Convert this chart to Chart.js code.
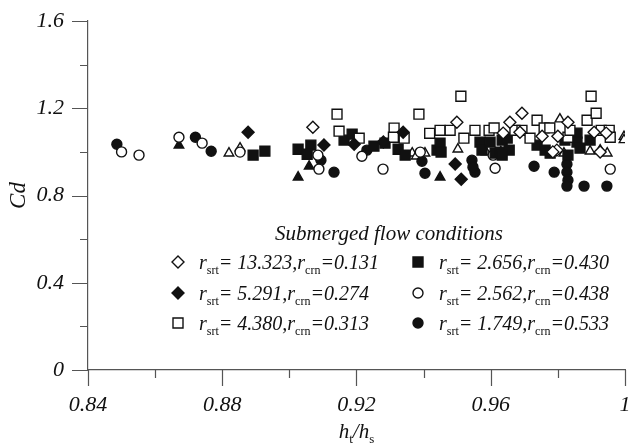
<!DOCTYPE html>
<html>
<head>
<meta charset="utf-8">
<script src="https://cdn.jsdelivr.net/npm/chart.js@4.4.0/dist/chart.umd.min.js"></script>
<style>
  html, body { margin: 0; padding: 0; background: #fff; }
</style>
</head>
<body>
<canvas id="cdChart" width="634" height="444"></canvas>
<script>
// points are [ht/hs, Cd]
var rsrt13 = [[0.907,1.113],[0.9499,1.136],[0.9657,1.136],[0.9693,1.177],[0.983,1.136],[0.9637,1.086],
  [0.9687,1.09],[0.9753,1.072],[0.9800,1.072],[0.9908,1.09],[0.9944,1.086],[0.9797,1.008],[0.9785,1.0],[0.9926,0.999]];
var rsrt5 = [[0.8877,1.09],[0.9103,1.031],[0.9193,1.035],[0.928,1.045],[0.9339,1.09],[0.9494,0.944],[0.9512,0.875]];
var rsrt4 = [[0.9142,1.173],[0.9148,1.095],[0.9208,1.063],[0.9312,1.109],[0.931,1.067],[0.9342,1.063],[0.9386,1.173],
  [0.9418,1.085],[0.9449,1.099],[0.9479,1.099],[0.9511,1.255],[0.952,1.063],[0.9553,1.099],[0.9595,1.099],[0.961,1.11],
  [0.9672,1.099],[0.9693,1.099],[0.9717,1.063],[0.9738,1.145],[0.9759,1.11],[0.9776,1.11],[0.9830,1.067],[0.9836,1.099],
  [0.9887,1.145],[0.9899,1.255],[0.9914,1.177],[0.9929,1.099],[0.9953,1.099],[0.9956,1.067]];
var rsrt2656 = [[0.8892,0.985],[0.8927,1.003],[0.9026,1.012],[0.9064,1.031],[0.9053,0.989],[0.9163,1.054],[0.9187,1.081],
  [0.9252,1.026],[0.9285,1.04],[0.9324,1.012],[0.9345,0.985],[0.944,1.008],[0.9449,1.04],[0.9452,0.999],[0.9568,1.045],
  [0.9574,1.008],[0.9598,1.045],[0.9613,0.994],[0.9628,0.999],[0.9634,1.054],[0.9649,1.063],[0.9655,1.008],[0.9634,0.985],
  [0.9738,1.031],[0.9762,1.008],[0.9777,0.994],[0.9830,0.985],[0.9821,1.054],[0.9857,1.086],[0.9857,1.045],[0.9866,1.017],[0.9896,1.054]];
var rsrt2562 = [[0.850,1.0],[0.8552,0.985],[0.8671,1.067],[0.874,1.04],[0.8853,0.999],[0.9085,0.985],[0.9088,0.921],
  [0.9216,0.980],[0.9279,0.921],[0.939,0.999],[0.9607,0.985],[0.9613,0.925],[0.9956,0.921]];
var rsrt1749 = [[0.8486,1.035],[0.872,1.067],[0.8767,1.003],[0.9094,0.962],[0.9133,0.907],[0.9231,1.008],[0.9395,0.957],
  [0.9404,0.902],[0.9544,0.962],[0.9553,0.907],[0.9547,0.93],[0.9729,0.934],[0.9789,0.907],[0.9827,0.943],[0.9827,0.907],
  [0.983,0.87],[0.9827,0.843],[0.9878,0.843],[0.9946,0.843]];
// triangles are in the plot but not in the legend
var openTri = [[0.882,0.994],[0.8853,1.017],[0.9366,0.994],[0.9378,0.98],[0.9404,0.994],[0.9502,1.012],[0.9586,0.999],
  [0.963,1.0],[0.9806,1.15],[0.9818,0.994],[0.9896,1.003],[0.9926,1.008],[0.9947,0.994],[0.9997,1.07],[0.9997,1.055]];
var fillTri = [[0.8671,1.03],[0.9026,0.884],[0.9059,0.934],[0.9449,0.884]];

var legendSrt = ['13.323', '5.291', '4.380', '2.656', '2.562', '1.749'];
var legendCrn = ['0.131', '0.274', '0.313', '0.430', '0.438', '0.533'];
var xTicks = [0.84, 0.88, 0.92, 0.96, 1];
var yTicks = [0, 0.4, 0.8, 1.2, 1.6];

var SERIF = '"Times New Roman", "Liberation Serif", "DejaVu Serif", serif';
var INK = '#111';
var AXIS = '#555';

function pts(arr) {
    return arr.map(function (p) { return { x: p[0], y: p[1] }; });
}

function ds(label, arr, style, filled, radius) {
    return {
        label: label,
        data: pts(arr),
        pointStyle: style,
        pointRadius: radius,
        pointHoverRadius: radius,
        pointBorderWidth: 1.4,
        borderColor: INK,
        backgroundColor: filled ? INK : '#fff',
        showLine: false
    };
}

function marker(ctx, style, filled, x, y) {
    ctx.save();
    ctx.lineWidth = 1.4;
    ctx.strokeStyle = INK;
    ctx.fillStyle = filled ? INK : '#fff';
    ctx.beginPath();
    if (style === 'circle') {
        ctx.arc(x, y, 5, 0, Math.PI * 2);
    } else if (style === 'rect') {
        ctx.rect(x - 5, y - 5, 10, 10);
    } else {
        ctx.moveTo(x, y - 6); ctx.lineTo(x + 6, y); ctx.lineTo(x, y + 6); ctx.lineTo(x - 6, y);
        ctx.closePath();
    }
    ctx.fill();
    ctx.stroke();
    ctx.restore();
}

// text with subscripts: parts = [[text, isSub], ...]
function richText(ctx, parts, x, y, size) {
    var cx = x;
    parts.forEach(function (p) {
        if (p[1]) {
            ctx.font = Math.round(size * 0.6) + 'px ' + SERIF;
            ctx.fillText(p[0], cx, y + size * 0.25);
        } else {
            ctx.font = 'italic ' + size + 'px ' + SERIF;
            ctx.fillText(p[0], cx, y);
        }
        cx += ctx.measureText(p[0]).width;
    });
    return cx - x;
}

function noEdgePadding(s) {
    s.paddingLeft = 0; s.paddingRight = 0; s.paddingTop = 0; s.paddingBottom = 0;
}

var decorations = {
    id: 'decorations',
    afterDraw: function (chart) {
        var ctx = chart.ctx;
        var xs = chart.scales.x, ys = chart.scales.y;
        var area = chart.chartArea;
        ctx.save();
        // tick marks, major and minor
        ctx.strokeStyle = AXIS;
        ctx.lineWidth = 1.2;
        ctx.beginPath();
        for (var i = 0; i <= 8; i++) {
            var vy = i * 0.2;
            var py = Math.round(ys.getPixelForValue(vy)) + 0.5;
            var ly = (i % 2 === 0) ? 16 : 8;
            ctx.moveTo(area.left - ly, py); ctx.lineTo(area.left, py);
            var vx = 0.84 + i * 0.02;
            var px = Math.round(xs.getPixelForValue(vx)) + 0.5;
            ctx.moveTo(px, area.bottom); ctx.lineTo(px, area.bottom + ly);
        }
        ctx.stroke();

        ctx.fillStyle = INK;
        ctx.textBaseline = 'alphabetic';
        // y title
        ctx.save();
        ctx.translate(25, ys.getPixelForValue(0.8));
        ctx.rotate(-Math.PI / 2);
        ctx.font = 'italic 23px ' + SERIF;
        ctx.textAlign = 'center';
        ctx.fillText('Cd', 0, 0);
        ctx.restore();
        // x title
        ctx.textAlign = 'left';
        var xt = [['h', 0], ['t', 1], ['/h', 0], ['s', 1]];
        ctx.globalAlpha = 0;
        var w = richText(ctx, xt, 0, -100, 21);
        ctx.globalAlpha = 1;
        richText(ctx, xt, (area.left + area.right) / 2 - w / 2, 438, 21);

        // legend
        ctx.font = 'italic 21px ' + SERIF;
        ctx.textAlign = 'center';
        ctx.fillText('Submerged flow conditions', 389, 240);
        ctx.textAlign = 'left';
        var cols = [178, 418];
        var rows = [262, 293, 323];
        chart.data.datasets.forEach(function (d, k) {
            if (k > 5) return;
            var cx = cols[Math.floor(k / 3)], cy = rows[k % 3];
            marker(ctx, d.pointStyle, d.backgroundColor === INK, cx, cy);
            richText(ctx, [['r', 0], ['srt', 1], ['= ' + legendSrt[k] + ',r', 0], ['crn', 1], ['=' + legendCrn[k], 0]],
                cx + 21, cy + 7, 20);
        });
        ctx.restore();
    }
};

var ctx = document.getElementById('cdChart');
var cdChart = new Chart(ctx, {
    type: 'scatter',
    data: {
        datasets: [
            ds('r13.323', rsrt13, 'rectRot', false, 6),
            ds('r5.291', rsrt5, 'rectRot', true, 6),
            ds('r4.380', rsrt4, 'rect', false, 7),
            ds('r2.656', rsrt2656, 'rect', true, 7),
            ds('r2.562', rsrt2562, 'circle', false, 5),
            ds('r1.749', rsrt1749, 'circle', true, 5),
            ds('open triangles', openTri, 'triangle', false, 5.5),
            ds('filled triangles', fillTri, 'triangle', true, 5.5)
        ]
    },
    options: {
        responsive: false,
        animation: false,
        layout: { padding: { left: 0, right: 9, top: 21, bottom: 0 } },
        plugins: {
            legend: { display: false },
            tooltip: { enabled: false }
        },
        scales: {
            x: {
                type: 'linear',
                min: 0.84,
                max: 1,
                afterFit: function (s) { s.height = 74; noEdgePadding(s); },
                afterBuildTicks: function (s) { s.ticks = xTicks.map(function (v) { return { value: v }; }); },
                grid: { display: false, drawTicks: false },
                border: { display: true, color: AXIS, width: 1.2 },
                ticks: {
                    color: INK,
                    padding: 22,
                    maxRotation: 0,
                    font: { family: SERIF, style: 'italic', size: 22 },
                    callback: function (v) { return String(Math.round(v * 100) / 100); }
                }
            },
            y: {
                min: 0,
                max: 1.6,
                afterFit: function (s) { s.width = 88; noEdgePadding(s); },
                afterBuildTicks: function (s) { s.ticks = yTicks.map(function (v) { return { value: v }; }); },
                grid: { display: false, drawTicks: false },
                border: { display: true, color: AXIS, width: 1.2 },
                ticks: {
                    color: INK,
                    padding: 24,
                    font: { family: SERIF, style: 'italic', size: 22 },
                    callback: function (v) { return String(Math.round(v * 10) / 10); }
                }
            }
        }
    },
    plugins: [decorations]
});
</script>
</body>
</html>
